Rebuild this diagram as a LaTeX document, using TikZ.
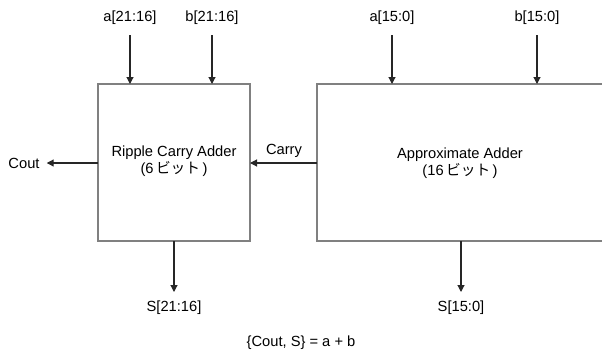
\documentclass[tikz,border=0pt]{standalone}
\usepackage{fontspec}
\setmainfont{Liberation Sans}
\newfontfamily\jpfont{Noto Sans CJK JP}
\usetikzlibrary{arrows.meta}
\begin{document}
\begin{tikzpicture}[x=1pt,y=-1pt,
  every node/.style={font=\fontsize{14.7}{17}\selectfont, inner sep=0pt},
  blockbox/.style={draw=black!50, line width=1.1pt},
  sig/.style={draw=black!85, line width=1.1pt, -{Triangle[width=7pt,length=7pt]}},
  lbl/.style={align=center}]
\useasboundingbox (0,0) rectangle (602,354);
% blocks
\draw[blockbox] (98,84) rectangle (250,241);
\draw[blockbox] (603,84) -- (317,84) -- (317,241) -- (603,241);
\node[lbl] (rca) at (174,161) {Ripple Carry Adder\\(6{\jpfont\,ビット\,})};
\node[lbl] (apx) at (460,163) {Approximate Adder\\(16{\jpfont\,ビット\,})};
% coordinates on block edges
\coordinate (rcaA) at (130,84);
\coordinate (rcaB) at (212,84);
\coordinate (apxA) at (392,84);
\coordinate (apxB) at (537,84);
\coordinate (rcaL) at (98,163);
\coordinate (rcaR) at (250,163);
\coordinate (apxL) at (317,163);
\coordinate (rcaS) at (174,241);
\coordinate (apxS) at (461,241);
% labels
\node (a1) at (130,18) {a[21:16]};
\node (b1) at (212,18) {b[21:16]};
\node (a0) at (392,18) {a[15:0]};
\node (b0) at (537,18) {b[15:0]};
\node (cout) at (24,163) {Cout};
\node (carry) at (284,151) {Carry};
\node (s1) at (174,308) {S[21:16]};
\node (s0) at (461,308) {S[15:0]};
\node (eq) at (301,343) {\{Cout, S\} = a + b};
% connectors
\draw[sig] (130,35) -- (rcaA);
\draw[sig] (212,35) -- (rcaB);
\draw[sig] (392,35) -- (apxA);
\draw[sig] (537,35) -- (apxB);
\draw[sig] (rcaL) -- ([xshift=7pt]cout.east);
\draw[sig] (apxL) -- (rcaR);
\draw[sig] (rcaS) -- (174,292);
\draw[sig] (apxS) -- (461,292);
\end{tikzpicture}
\end{document}
